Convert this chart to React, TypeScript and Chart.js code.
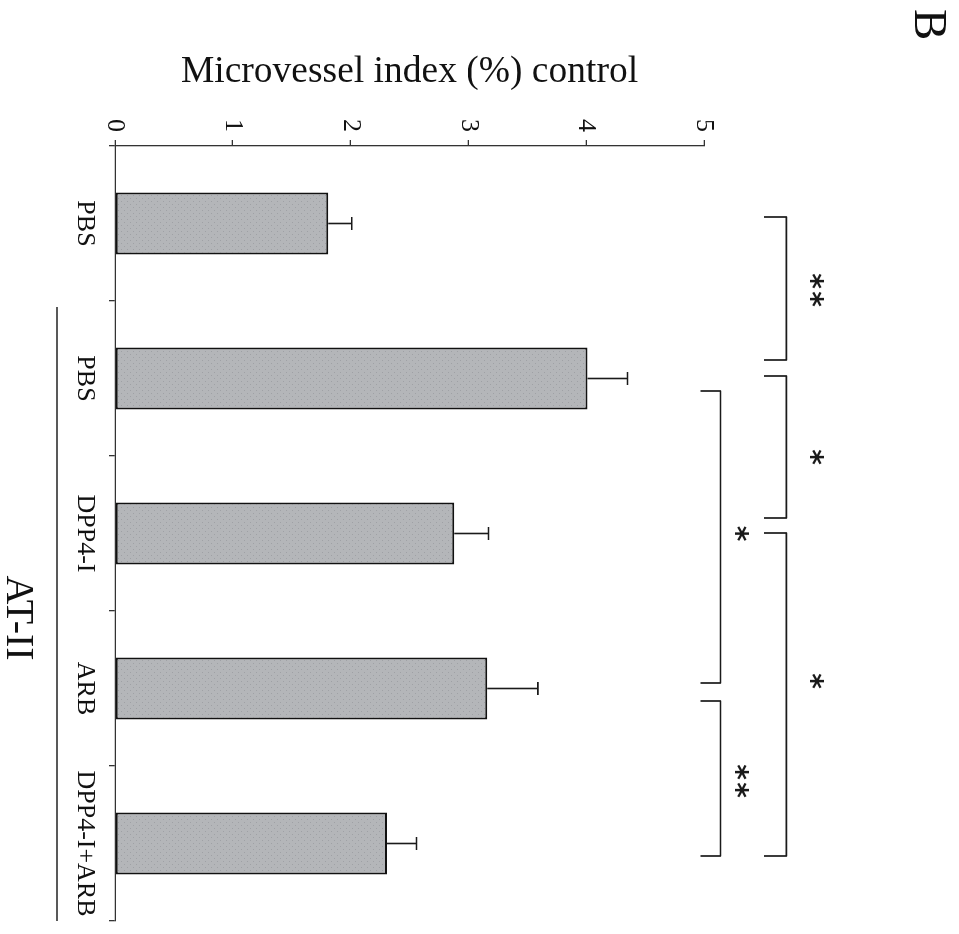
import { useEffect, useRef } from "react";
import { Chart, registerables } from "chart.js";

Chart.register(...registerables);

// ---- data ----
const categories = ["PBS", "PBS", "DPP4-I", "ARB", "DPP4-I+ARB"];
const meanValues = [1.81, 4.01, 2.88, 3.16, 2.31];
const errorValues = [0.2, 0.34, 0.29, 0.43, 0.25];
const valueMin = 0;
const valueMax = 5;
const valueStep = 1;
const axisTitle = "Microvessel index (%) control";
const groupLabel = "AT-II";
const groupFrom = 1;
const groupTo = 4;
const panelLabel = "B";
// significance comparisons (category indices)
const compareFrom = [0, 1, 2, 1, 3];
const compareTo = [1, 2, 4, 3, 4];
const compareMarks = ["**", "*", "*", "*", "**"];
const compareRow = [0, 0, 0, 1, 1];

// ---- style constants ----
const SERIF = '"Liberation Serif", "Times New Roman", serif';
const CW = 934; // canvas width (page height after rotation)
const CH = 959; // canvas height (page width after rotation)
const rowLineValue = [5.7, 5.14];
const rowArmValue = [5.51, 4.97];
const rowMarkValue = [5.955, 5.32];
const startInset = [-6.5, -2.5, -0.5, 12.5, 12.5];
const endInset = [-18.5, -15.5, 12.5, -5.5, 12.5];
const markShift = [-11, 1, -7.5, 0, 15];

function makePattern(): CanvasPattern | string {
  const c = document.createElement("canvas");
  c.width = 6;
  c.height = 6;
  const g = c.getContext("2d");
  if (!g) return "#b4b6b9";
  g.fillStyle = "#b4b6b9";
  g.fillRect(0, 0, 6, 6);
  g.fillStyle = "#9fa1a5";
  g.fillRect(0, 0, 1, 1);
  g.fillRect(3, 3, 1, 1);
  return g.createPattern(c, "repeat") || "#b4b6b9";
}

const overlayPlugin = {
  id: "overlay",
  afterDraw(chart: any) {
    const ctx: CanvasRenderingContext2D = chart.ctx;
    const xs = chart.scales.x;
    const ys = chart.scales.y;
    const meta = chart.getDatasetMeta(0);
    ctx.save();
    ctx.lineCap = "butt";
    ctx.lineJoin = "round";
    ctx.strokeStyle = "#1a1a1a";

    // error bars
    ctx.lineWidth = 1.6;
    meta.data.forEach((bar: any, i: number) => {
      const px = bar.x;
      const base = ys.getPixelForValue(meanValues[i]);
      const top = ys.getPixelForValue(meanValues[i] + errorValues[i]);
      ctx.beginPath();
      ctx.moveTo(px, base);
      ctx.lineTo(px, top);
      ctx.moveTo(px - 6.5, top);
      ctx.lineTo(px + 6.5, top);
      ctx.stroke();
    });

    // significance brackets
    ctx.lineWidth = 1.7;
    for (let k = 0; k < compareFrom.length; k++) {
      const row = compareRow[k];
      const x1 = xs.getPixelForValue(compareFrom[k]) + startInset[k];
      const x2 = xs.getPixelForValue(compareTo[k]) + endInset[k];
      const yl = ys.getPixelForValue(rowLineValue[row]);
      const ya = ys.getPixelForValue(rowArmValue[row]);
      ctx.beginPath();
      ctx.moveTo(x1, ya);
      ctx.lineTo(x1, yl);
      ctx.lineTo(x2, yl);
      ctx.lineTo(x2, ya);
      ctx.stroke();

      const cx =
        (xs.getPixelForValue(compareFrom[k]) + xs.getPixelForValue(compareTo[k])) / 2 + markShift[k];
      const cy = ys.getPixelForValue(rowMarkValue[row]);
      ctx.fillStyle = "#1a1a1a";
      ctx.font = 'bold 30px "DejaVu Sans", sans-serif';
      ctx.textAlign = "center";
      ctx.textBaseline = "alphabetic";
      const chars = compareMarks[k].split("");
      const spacing = 18;
      chars.forEach((ch, j) => {
        const m = ctx.measureText(ch);
        const off = (j - (chars.length - 1) / 2) * spacing;
        ctx.fillText(
          ch,
          cx + off,
          cy + (m.actualBoundingBoxAscent - m.actualBoundingBoxDescent) / 2
        );
      });
    }

    // group line and label
    const gx1 = xs.getPixelForValue(groupFrom) - 71.5;
    const gx2 = xs.getPixelForValue(groupTo) + 77.5;
    const gy = xs.bottom - 57;
    ctx.lineWidth = 1.4;
    ctx.strokeStyle = "#222";
    ctx.beginPath();
    ctx.moveTo(gx1, gy);
    ctx.lineTo(gx2, gy);
    ctx.stroke();
    ctx.fillStyle = "#111";
    ctx.font = `40px ${SERIF}`;
    ctx.textAlign = "center";
    ctx.textBaseline = "alphabetic";
    ctx.fillText(groupLabel, (gx1 + gx2) / 2 + 4, xs.bottom - 7);

    // panel letter
    ctx.font = `47px ${SERIF}`;
    ctx.textAlign = "left";
    ctx.fillText(panelLabel, 9, 44);

    ctx.restore();
  },
};

export default function App() {
  const ref = useRef<HTMLCanvasElement>(null);

  useEffect(() => {
    const canvas = ref.current;
    if (!canvas) return;
    const pattern = makePattern();
    const chart = new Chart(canvas, {
      type: "bar",
      data: {
        labels: categories,
        datasets: [
          {
            data: meanValues,
            backgroundColor: pattern as any,
            borderColor: "#111",
            borderWidth: 2,
            borderSkipped: false,
            categoryPercentage: 1,
            barPercentage: 0.4,
          },
        ],
      },
      options: {
        responsive: false,
        animation: false,
        devicePixelRatio: 1,
        layout: { padding: { top: 255, right: 13, bottom: 0, left: 0 } },
        plugins: {
          legend: { display: false },
          tooltip: { enabled: false },
        },
        scales: {
          x: {
            type: "category",
            offset: true,
            grid: {
              offset: true,
              drawOnChartArea: false,
              drawTicks: true,
              tickLength: 6,
              color: "#333",
              lineWidth: 1.3,
            },
            border: { display: true, color: "#333", width: 1.3 },
            ticks: {
              color: "#111",
              font: { family: SERIF, size: 26 },
              padding: 9,
              maxRotation: 0,
              minRotation: 0,
              autoSkip: false,
            },
            afterFit: (s: any) => {
              s.height = 115;
            },
          },
          y: {
            type: "linear",
            min: valueMin,
            max: valueMax,
            ticks: {
              stepSize: valueStep,
              color: "#111",
              font: { family: SERIF, size: 26 },
              padding: 8,
            },
            grid: {
              drawOnChartArea: false,
              tickLength: 6,
              color: "#333",
              lineWidth: 1.3,
            },
            border: { display: true, color: "#333", width: 1.3 },
            title: {
              display: true,
              text: axisTitle,
              color: "#111",
              font: { family: SERIF, size: 37.5 },
              padding: { top: 50, bottom: 0 },
            },
            afterFit: (s: any) => {
              s.width = 146;
            },
          },
        },
      },
      plugins: [overlayPlugin],
    });
    return () => chart.destroy();
  }, []);

  return (
    <div
      style={{
        position: "absolute",
        left: 0,
        top: 0,
        width: 959,
        height: 934,
        overflow: "hidden",
        background: "#fff",
      }}
    >
      <canvas
        ref={ref}
        width={CW}
        height={CH}
        style={{
          position: "absolute",
          left: 0,
          top: 0,
          width: CW,
          height: CH,
          transformOrigin: "0 0",
          transform: "translate(959px, 0px) rotate(90deg)",
        }}
      />
    </div>
  );
}
